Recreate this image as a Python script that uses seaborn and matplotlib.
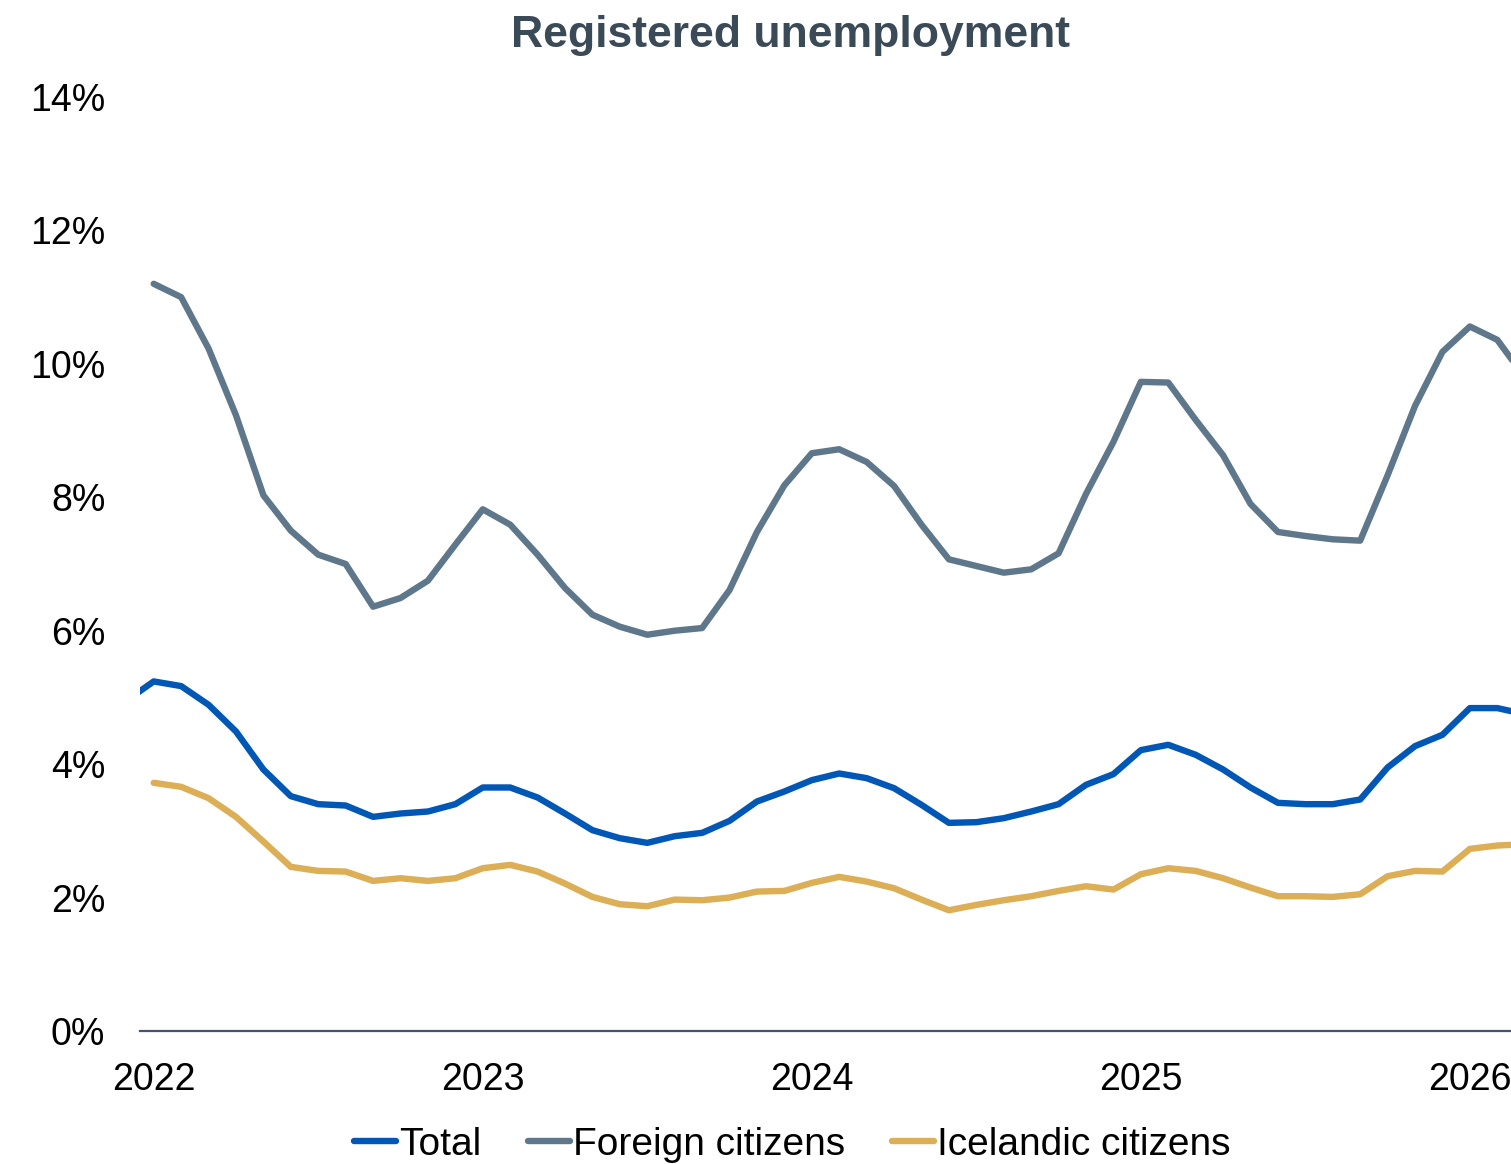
import numpy as np
import pandas as pd
import matplotlib
matplotlib.use("Agg")
import matplotlib.pyplot as plt
import seaborn as sns

# Monthly registered unemployment rate (%), Dec 2021 - Mar 2026
months = pd.date_range("2021-12-01", "2026-03-01", freq="MS")

total = [
    4.95,
    5.24, 5.17, 4.89, 4.49, 3.92, 3.52, 3.40, 3.38, 3.21, 3.26, 3.29, 3.40,
    3.65, 3.65, 3.50, 3.26, 3.01, 2.89, 2.82, 2.92, 2.97, 3.15, 3.44, 3.59,
    3.76, 3.86, 3.79, 3.64, 3.39, 3.12, 3.13, 3.19, 3.29, 3.40, 3.69, 3.85,
    4.21, 4.29, 4.14, 3.92, 3.65, 3.42, 3.40, 3.40, 3.47, 3.95, 4.27, 4.44,
    4.84, 4.84, 4.75,
]
foreign = [
    np.nan,
    11.20, 11.00, 10.23, 9.23, 8.03, 7.50, 7.14, 7.00, 6.36, 6.49, 6.75, 7.29,
    7.82, 7.59, 7.14, 6.64, 6.24, 6.06, 5.94, 6.00, 6.04, 6.61, 7.48, 8.18,
    8.66, 8.72, 8.53, 8.17, 7.59, 7.07, 6.97, 6.87, 6.92, 7.16, 8.05, 8.83,
    9.73, 9.72, 9.16, 8.63, 7.90, 7.48, 7.42, 7.37, 7.35, 8.33, 9.37, 10.18,
    10.56, 10.36, 9.80,
]
icelandic = [
    np.nan,
    3.72, 3.66, 3.49, 3.21, 2.84, 2.46, 2.40, 2.39, 2.25, 2.29, 2.25, 2.29,
    2.44, 2.49, 2.39, 2.21, 2.01, 1.90, 1.87, 1.97, 1.96, 2.00, 2.09, 2.10,
    2.22, 2.31, 2.24, 2.14, 1.97, 1.81, 1.89, 1.96, 2.02, 2.10, 2.17, 2.12,
    2.35, 2.44, 2.40, 2.29, 2.15, 2.02, 2.02, 2.01, 2.05, 2.32, 2.40, 2.39,
    2.73, 2.78, 2.80,
]

series_names = ["Total", "Foreign citizens", "Icelandic citizens"]
series_colors = ["#0057B5", "#5E778A", "#DCAE55"]
year_labels = ["2022", "2023", "2024", "2025", "2026"]
y_ticks = [0, 2, 4, 6, 8, 10, 12, 14]

# Month offset relative to January 2022
month_idx = (months.year - 2022) * 12 + (months.month - 1)

df = pd.DataFrame({
    "month": np.tile(month_idx, 3),
    "rate": np.concatenate([total, foreign, icelandic]),
    "series": np.repeat(series_names, len(months)),
}).dropna()

sns.set_style("white")
plt.rcParams["font.family"] = ["Liberation Sans", "DejaVu Sans"]

fig = plt.figure(figsize=(15.11, 11.64), dpi=100)
ax = fig.add_axes([140 / 1511, 1 - 1031 / 1164, 1 - 140 / 1511, (1031 - 97) / 1164])

sns.lineplot(
    data=df, x="month", y="rate", hue="series",
    hue_order=series_names, palette=series_colors,
    linewidth=4.6, ax=ax, legend=True,
    solid_capstyle="round", solid_joinstyle="round",
)

ax.set_xlim(-0.5, 49.5)
ax.set_ylim(0, 14)
ax.set_xticks([0, 12, 24, 36, 48])
ax.set_xticklabels(year_labels)
ax.set_yticks(y_ticks)
ax.set_yticklabels([f"{v}%" for v in y_ticks])
ax.tick_params(axis="x", labelsize=27, pad=22, length=0, colors="black")
ax.tick_params(axis="y", labelsize=27, pad=25, length=0, colors="black")
ax.set_xlabel("")
ax.set_ylabel("")

for side in ["top", "right", "left"]:
    ax.spines[side].set_visible(False)
ax.spines["bottom"].set_color("#44546A")
ax.spines["bottom"].set_linewidth(1.6)

fig.text((511 + 1070) / 2 / 1511, 1 - 36 / 1164, "Registered unemployment",
         fontsize=32, fontweight="bold", color="#3A4A56",
         ha="center", va="center")

handles, labels = ax.get_legend_handles_labels()
ax.get_legend().remove()
for h in handles:
    h.set_linewidth(4.6)
    h.set_solid_capstyle("round")
fig.legend(
    handles, labels, loc="center", ncol=3,
    bbox_to_anchor=(792 / 1511, 1 - 1145 / 1164),
    frameon=False, fontsize=28, handlelength=1.08,
    handletextpad=0.08, columnspacing=1.2, labelcolor="black",
)

fig.savefig("out.png", dpi=100)
